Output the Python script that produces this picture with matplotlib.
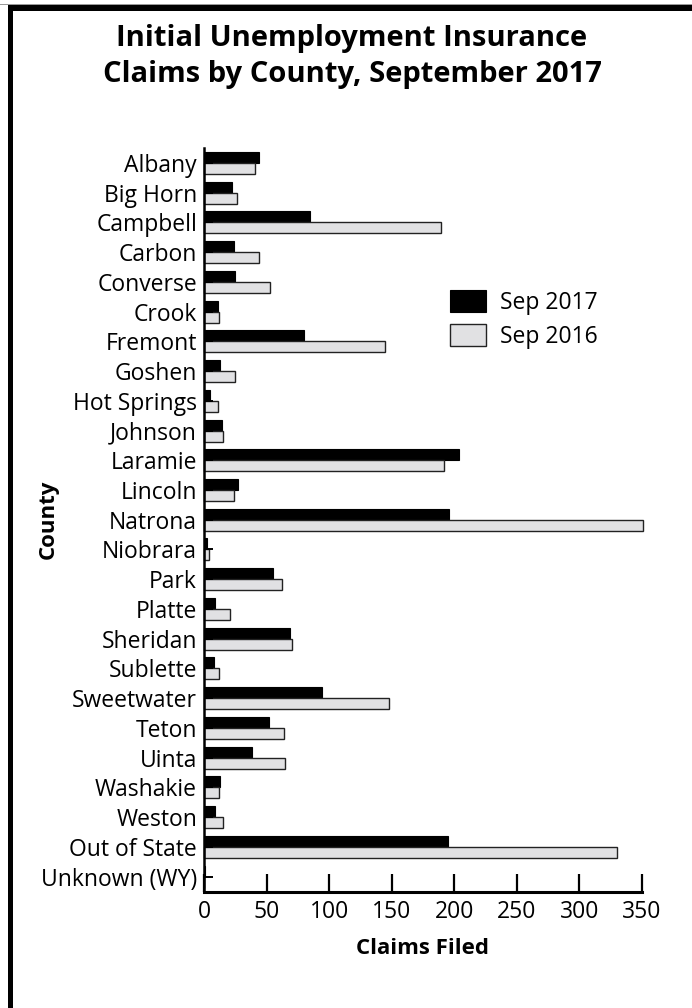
import numpy as np
import matplotlib
matplotlib.use("Agg")
import matplotlib.pyplot as plt
from matplotlib.patches import Rectangle

plt.rcParams['font.family'] = ['Open Sans', 'DejaVu Sans']

# county list, top to bottom
counties = ["Albany", "Big Horn", "Campbell", "Carbon", "Converse", "Crook",
            "Fremont", "Goshen", "Hot Springs", "Johnson", "Laramie", "Lincoln",
            "Natrona", "Niobrara", "Park", "Platte", "Sheridan", "Sublette",
            "Sweetwater", "Teton", "Uinta", "Washakie", "Weston",
            "Out of State", "Unknown (WY)"]

sep_2017 = [44, 22, 85, 24, 25, 11, 80, 13, 5, 14, 204, 27, 196, 2, 55, 9,
            69, 8, 94, 52, 38, 13, 9, 195, 1]
sep_2016 = [41, 26, 189, 44, 53, 12, 145, 25, 11, 15, 192, 24, 351, 4, 62, 21,
            70, 12, 148, 64, 65, 12, 15, 330, 0]

x_ticks = [0, 50, 100, 150, 200, 250, 300, 350]

W, H = 692, 1008
fig = plt.figure(figsize=(W / 100, H / 100), dpi=100)
ax = fig.add_axes([204 / W, 1 - 891.5 / H, (642 - 204) / W, (891.5 - 148) / H])

y = np.arange(len(counties))
bh = 0.37
ax.barh(y - bh / 2, sep_2017, height=bh, color="black", edgecolor="black",
        linewidth=0.8, label="Sep 2017", clip_on=False)
ax.barh(y + bh / 2, sep_2016, height=bh, color="#e1e1e3", edgecolor="#222222",
        linewidth=1.0, label="Sep 2016", clip_on=False)

ax.set_ylim(len(counties) - 0.5, -0.5)
ax.set_xlim(0, 350)
ax.set_xticks(x_ticks)
ax.set_yticks(y)
ax.set_yticklabels(counties)

ax.spines['top'].set_visible(False)
ax.spines['right'].set_visible(False)
ax.spines['left'].set_linewidth(1.8)
ax.spines['bottom'].set_linewidth(2.2)
ax.tick_params(axis='y', direction='in', length=6.5, width=1.4, pad=5,
               labelsize=16.5)
ax.tick_params(axis='x', direction='in', length=13, width=1.6, pad=6,
               labelsize=16.5)

ax.set_xlabel("Claims Filed", fontsize=16, fontweight='bold', labelpad=10)
ax.set_ylabel("County", fontsize=16, fontweight='bold')
ax.yaxis.set_label_coords((59 - 204) / (642 - 204), 0.5)

fig.text(352 / W, 1 - 24 / H,
         "Initial Unemployment Insurance\nClaims by County, September 2017",
         ha='center', va='top', fontsize=21, fontweight='bold',
         linespacing=1.3)

ax.legend(loc='upper left', bbox_to_anchor=(450 / W, 1 - 290 / H),
          bbox_transform=fig.transFigure, frameon=False, fontsize=16.5,
          handlelength=1.56, handleheight=1.1, handletextpad=0.6,
          labelspacing=0.4, borderpad=0, borderaxespad=0)

# page border on the left and top
fig.add_artist(Rectangle((0, 1 - 4.5 / H), 1, 1 / H, transform=fig.transFigure,
                         color="#999999", lw=0))
fig.add_artist(Rectangle((8 / W, 1 - 10.5 / H), 1, 6 / H,
                         transform=fig.transFigure, color="black", lw=0))
fig.add_artist(Rectangle((8 / W, 0), 5.5 / W, 1 - 4.5 / H,
                         transform=fig.transFigure, color="black", lw=0))

fig.savefig("out.png", dpi=100)
